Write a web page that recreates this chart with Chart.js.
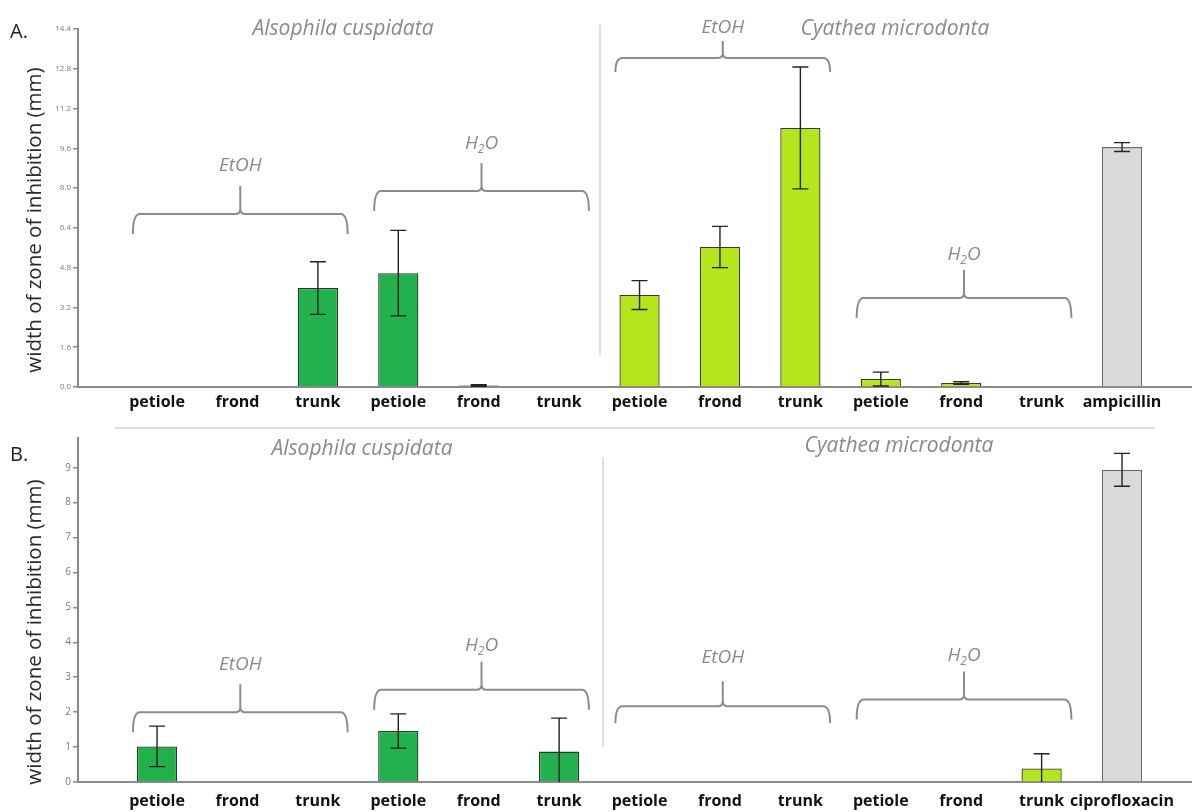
<!DOCTYPE html>
<html>
<head>
<meta charset="utf-8">
<script src="https://cdn.jsdelivr.net/npm/chart.js@4.4.0/dist/chart.umd.min.js"></script>
<style>
    body { margin: 0; background: #fff; width: 1192px; height: 812px; position: relative; overflow: hidden; font-family: 'Open Sans', sans-serif; }
    canvas { position: absolute; left: 0; z-index: 2; }
    #chartA { top: 0; }
    #chartB { top: 430px; }
    .txt { position: absolute; white-space: nowrap; transform: translate(-50%, -50%); z-index: 3; }
    .panel { font-size: 20px; color: #222; transform: translate(0, -50%); }
    .species { font-size: 21px; font-style: italic; color: #8a8a8a; }
    .ytitle { font-size: 20.5px; color: #2a2a2a; transform: translate(-50%, -50%) rotate(-90deg); }
    .sep { position: absolute; background: #dedede; z-index: 1; }
</style>
</head>
<body>
<div class="txt panel" style="left:10px; top:30px;">A.</div>
<div class="txt panel" style="left:10px; top:453px;">B.</div>
<div class="txt species" style="left:343px; top:27px;">Alsophila cuspidata</div>
<div class="txt species" style="left:895px; top:27px;">Cyathea microdonta</div>
<div class="txt species" style="left:362px; top:447px;">Alsophila cuspidata</div>
<div class="txt species" style="left:899px; top:444px;">Cyathea microdonta</div>
<div class="txt ytitle" style="left:33px; top:220px;">width of zone of inhibition (mm)</div>
<div class="txt ytitle" style="left:33px; top:632px;">width of zone of inhibition (mm)</div>
<div class="sep" style="left:115px; top:427px; width:1040px; height:1.5px;"></div>
<div class="sep" style="left:599px; top:25px; width:1.5px; height:330px;"></div>
<div class="sep" style="left:602px; top:457px; width:1.5px; height:290px;"></div>

<canvas id="chartA" width="1192" height="425"></canvas>
<canvas id="chartB" width="1192" height="400"></canvas>

<script>
const categories = ['petiole', 'frond', 'trunk', 'petiole', 'frond', 'trunk',
                    'petiole', 'frond', 'trunk', 'petiole', 'frond', 'trunk'];
const labelsA = categories.concat(['ampicillin']);
const labelsB = categories.concat(['ciprofloxacin']);

// plant for each bar (first six Alsophila, next six Cyathea, last the antibiotic)
const species = ['alsophila', 'alsophila', 'alsophila', 'alsophila', 'alsophila', 'alsophila',
                 'cyathea', 'cyathea', 'cyathea', 'cyathea', 'cyathea', 'cyathea', 'control'];

// A. means and error bars (mm)
const valuesA = [0, 0, 3.98, 4.58, 0.06, 0, 3.70, 5.63, 10.42, 0.32, 0.16, 0, 9.65];
const errorsA = [0, 0, 1.06, 1.72, 0.03, 0, 0.58, 0.83, 2.45, 0.28, 0.05, 0, 0.18];

// B. means and error bars (mm)
const valuesB = [1.02, 0, 0, 1.46, 0, 0.87, 0, 0, 0, 0, 0, 0.39, 8.94];
const errorsB = [0.58, 0, 0, 0.49, 0, 0.96, 0, 0, 0, 0, 0, 0.42, 0.47];

const yTicksA = [0, 1.6, 3.2, 4.8, 6.4, 8.0, 9.6, 11.2, 12.8, 14.4];
const yTicksB = [0, 1, 2, 3, 4, 5, 6, 7, 8, 9];

// extraction brackets: category range and height of the brace (axis units)
const bracesA = [
    { text: 'EtOH', first: 0, last: 2, y: 6.96 },
    { text: 'H2O', first: 3, last: 5, y: 7.88 },
    { text: 'EtOH', first: 6, last: 8, y: 13.23, rise: 17, drop: 14, gap: 13 },
    { text: 'H2O', first: 9, last: 11, y: 3.58, gap: 15 }
];
const bracesB = [
    { text: 'EtOH', first: 0, last: 2, y: 2.0 },
    { text: 'H2O', first: 3, last: 5, y: 2.64, gap: 16 },
    { text: 'EtOH', first: 6, last: 8, y: 2.17, rise: 25, drop: 17, gap: 24 },
    { text: 'H2O', first: 9, last: 11, y: 2.36, gap: 16 }
];

const FONT = "'Open Sans', sans-serif";
const fills = { alsophila: '#22b14c', cyathea: '#b5e61d', control: '#d9d9d9' };
const borders = { alsophila: '#1f3a25', cyathea: '#36400f', control: '#6a6a6a' };

function drawLabel(ctx, text, x, y) {
    ctx.fillStyle = '#8a8a8a';
    ctx.textBaseline = 'middle';
    ctx.textAlign = 'left';
    const big = 'italic 19px ' + FONT;
    const small = 'italic 12px ' + FONT;
    if (text === 'H2O') {
        ctx.font = big;
        const wH = ctx.measureText('H').width;
        const wO = ctx.measureText('O').width;
        ctx.font = small;
        const w2 = ctx.measureText('2').width;
        let cx = x - (wH + w2 + wO) / 2;
        ctx.font = big;
        ctx.fillText('H', cx, y);
        cx += wH;
        ctx.font = small;
        ctx.fillText('2', cx, y + 6);
        cx += w2;
        ctx.font = big;
        ctx.fillText('O', cx, y);
    } else {
        ctx.font = big;
        ctx.textAlign = 'center';
        ctx.fillText(text, x, y);
    }
}

function makeOverlay(errors, braces) {
    return {
        id: 'overlay',
        afterDatasetsDraw(chart) {
            const ctx = chart.ctx;
            const xs = chart.scales.x;
            const ys = chart.scales.y;
            const values = chart.data.datasets[0].data;

            // error bars
            ctx.save();
            ctx.strokeStyle = '#222';
            ctx.lineWidth = 1.4;
            values.forEach((p, i) => {
                const e = errors[i];
                if (!e) return;
                const x = xs.getPixelForValue(p.x);
                const top = ys.getPixelForValue(p.y + e);
                const bot = ys.getPixelForValue(Math.max(p.y - e, ys.min));
                ctx.beginPath();
                ctx.moveTo(x, top);
                ctx.lineTo(x, bot);
                ctx.moveTo(x - 8, top);
                ctx.lineTo(x + 8, top);
                if (p.y - e > ys.min) {
                    ctx.moveTo(x - 8, bot);
                    ctx.lineTo(x + 8, bot);
                }
                ctx.stroke();
            });
            ctx.restore();

            // curly brackets over each extraction group
            ctx.save();
            ctx.strokeStyle = '#8c8c8c';
            ctx.lineWidth = 2;
            braces.forEach((b) => {
                const x0 = xs.getPixelForValue(b.first - 0.3);
                const x1 = xs.getPixelForValue(b.last + 0.37);
                const xm = (x0 + x1) / 2;
                const yl = ys.getPixelForValue(b.y);
                const drop = b.drop || 20;
                const rise = b.rise || 28;
                const gap = b.gap || 20;
                const r = 7;
                ctx.beginPath();
                ctx.moveTo(x0, yl + drop);
                ctx.quadraticCurveTo(x0, yl, x0 + r, yl);
                ctx.lineTo(xm - 5, yl);
                ctx.quadraticCurveTo(xm, yl, xm, yl - 5);
                ctx.lineTo(xm, yl - rise);
                ctx.moveTo(xm, yl - 5);
                ctx.quadraticCurveTo(xm, yl, xm + 5, yl);
                ctx.lineTo(x1 - r, yl);
                ctx.quadraticCurveTo(x1, yl, x1, yl + drop);
                ctx.stroke();
                drawLabel(ctx, b.text, xm, yl - rise - gap);
            });
            ctx.restore();
        }
    };
}

function makeChart(id, labels, values, errors, braces, yMax, yTicks, tickFormat, tickSize, pad) {
    const ctx = document.getElementById(id).getContext('2d');
    return new Chart(ctx, {
        type: 'bar',
        data: {
            datasets: [{
                data: values.map((v, i) => ({ x: i, y: v })),
                backgroundColor: species.map((s) => fills[s]),
                borderColor: species.map((s) => borders[s]),
                borderWidth: 1.3,
                borderSkipped: 'bottom',
                barPercentage: 0.5,
                categoryPercentage: 1.0
            }]
        },
        options: {
            responsive: false,
            animation: false,
            layout: { padding: { top: pad.top, bottom: pad.bottom, left: 0, right: 0 } },
            plugins: {
                legend: { display: false },
                tooltip: { enabled: false }
            },
            scales: {
                x: {
                    type: 'linear',
                    offset: false,
                    min: -0.983,
                    max: 12.87,
                    afterBuildTicks: (s) => { s.ticks = labels.map((_, i) => ({ value: i })); },
                    ticks: {
                        callback: (v) => labels[v],
                        font: { family: FONT, size: 16, weight: 'bold' },
                        color: '#111',
                        padding: pad.tick,
                        autoSkip: false,
                        maxRotation: 0
                    },
                    grid: { display: false, drawTicks: false },
                    border: { color: '#8a8a8a', width: 2 }
                },
                y: {
                    min: 0,
                    max: yMax,
                    afterBuildTicks: (s) => { s.ticks = yTicks.map((v) => ({ value: v })); },
                    afterFit: (s) => { s.width = 78; },
                    ticks: {
                        callback: tickFormat,
                        font: { family: FONT, size: tickSize },
                        color: '#7a7a7a',
                        padding: 2
                    },
                    grid: { drawOnChartArea: false, tickLength: 5, color: '#8a8a8a', lineWidth: 1.5 },
                    border: { color: '#8a8a8a', width: 2 }
                }
            }
        },
        plugins: [makeOverlay(errors, braces)]
    });
}

makeChart('chartA', labelsA, valuesA, errorsA, bracesA, 14.4, yTicksA,
    (v) => Number(v).toFixed(1), 8, { top: 29, bottom: 6.8, tick: 6 });
makeChart('chartB', labelsB, valuesB, errorsB, bracesB, 9.85, yTicksB,
    (v) => String(v), 10, { top: 2, bottom: 8.8, tick: 10 });
</script>
</body>
</html>
